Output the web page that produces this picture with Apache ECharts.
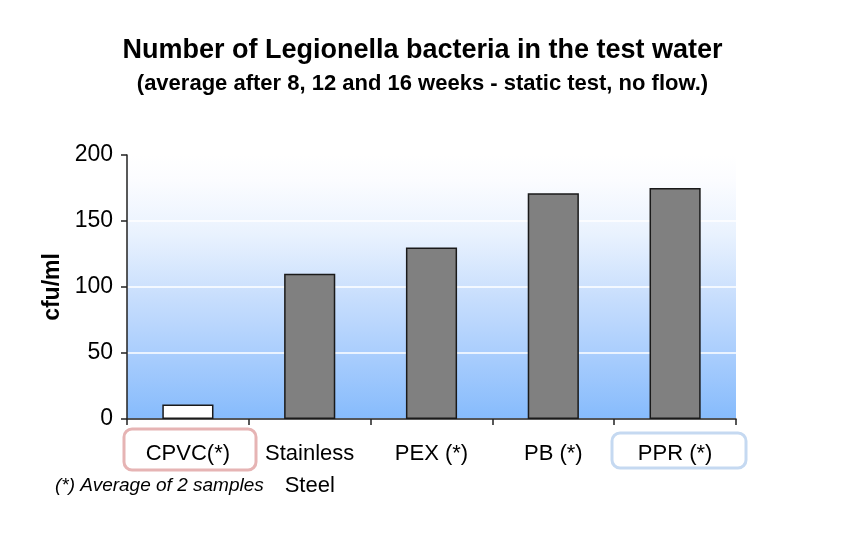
<!DOCTYPE html>
<html>
<head>
<meta charset="utf-8">
<script src="https://cdn.jsdelivr.net/npm/echarts@6/dist/echarts.min.js"></script>
<style>html,body{margin:0;padding:0;background:#fff}#c{width:845px;height:538px}</style>
</head>
<body>
<div id="c"></div>
<script>
var categories = ['CPVC(*)', 'Stainless\nSteel', 'PEX (*)', 'PB (*)', 'PPR (*)'];
var values = [11, 110, 130, 171, 175];
var yTicks = [0, 50, 100, 150, 200];

var chart = echarts.init(document.getElementById('c'));
var F = 'Liberation Sans, Arial, sans-serif';
chart.setOption({
  animation: false,
  title: [
    {text: 'Number of Legionella bacteria in the test water', left: 'center', top: 32,
     textStyle: {fontFamily: F, fontSize: 27, fontWeight: 'bold', color: '#000'}},
    {text: '(average after 8, 12 and 16 weeks - static test, no flow.)', left: 'center', top: 68,
     textStyle: {fontFamily: F, fontSize: 22, fontWeight: 'bold', color: '#000'}}
  ],
  grid: {left: 127, right: 109, top: 155, bottom: 119, show: true, borderWidth: 0,
    backgroundColor: new echarts.graphic.LinearGradient(0, 0, 0, 1, [
      {offset: 0, color: '#ffffff'},
      {offset: 0.1, color: '#fbfcff'},
      {offset: 0.3, color: '#e9f2fe'},
      {offset: 0.55, color: '#c6ddfd'},
      {offset: 0.8, color: '#a3cafd'},
      {offset: 1, color: '#86bbfc'}
    ])},
  xAxis: {
    type: 'category', data: categories, boundaryGap: true,
    axisLine: {lineStyle: {color: '#222', width: 1.5}},
    axisTick: {show: true, length: 6, lineStyle: {color: '#222', width: 1.5}},
    axisLabel: {fontFamily: F, fontSize: 22, color: '#000', margin: 19, lineHeight: 32, interval: 0}
  },
  yAxis: {
    type: 'value', min: yTicks[0], max: yTicks[yTicks.length - 1], interval: 50,
    name: 'cfu/ml', nameLocation: 'middle', nameGap: 63, nameRotate: 90,
    nameTextStyle: {fontFamily: F, fontSize: 23, fontWeight: 'bold', color: '#000'},
    axisLine: {show: true, lineStyle: {color: '#222', width: 1.5}},
    axisTick: {show: true, length: 6, lineStyle: {color: '#222', width: 1.5}},
    axisLabel: {fontFamily: F, fontSize: 23, color: '#000', margin: 14},
    splitLine: {show: true, lineStyle: {color: '#ffffff', width: 1.5}}
  },
  series: [{
    type: 'bar', barWidth: '42%',
    data: values.map(function (v, i) {
      return {value: v, itemStyle: {color: i === 0 ? '#ffffff' : '#808080'}};
    }),
    itemStyle: {borderColor: '#1a1a1a', borderWidth: 1.5}
  }],
  graphic: [
    {type: 'rect', shape: {x: 124, y: 429, width: 132, height: 41, r: 8},
     style: {fill: 'none', stroke: '#e6b4b4', lineWidth: 3}},
    {type: 'rect', shape: {x: 612, y: 433, width: 134, height: 35, r: 8},
     style: {fill: 'none', stroke: '#c5d9f1', lineWidth: 3}},
    {type: 'text', left: 55, top: 476,
     style: {text: '(*) Average of 2 samples', fontFamily: F, fontSize: 19, fontStyle: 'italic', fill: '#000'}}
  ]
});
</script>
</body>
</html>
